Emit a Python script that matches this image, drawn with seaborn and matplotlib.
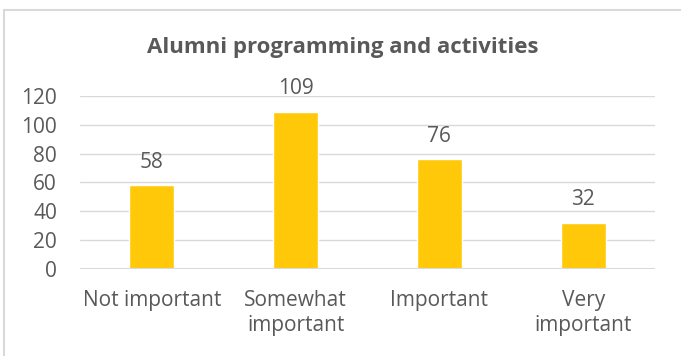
import matplotlib
matplotlib.use("Agg")
import matplotlib.pyplot as plt
import seaborn as sns
import pandas as pd
from matplotlib.patches import Rectangle

categories = ["Not important", "Somewhat\nimportant", "Important", "Very\nimportant"]
values = [58, 109, 76, 32]
yticks = [0, 20, 40, 60, 80, 100, 120]
title = "Alumni programming and activities"

sns.set_theme(style="white")
plt.rcParams['font.family'] = ['Open Sans', 'DejaVu Sans']

text_color = "#595959"
grid_color = "#d9d9d9"
bar_color = "#FFC90A"

fig = plt.figure(figsize=(6.81, 3.56), dpi=100)
ax = fig.add_axes([80/681, 87.3/356, 575/681, 172.7/356])

df = pd.DataFrame({"cat": categories, "val": values})
sns.barplot(data=df, x="cat", y="val", color=bar_color, width=0.313, ax=ax, saturation=1)

ax.set_ylim(0, 120)
ax.set_xlim(-0.5, 3.5)
ax.set_yticks(yticks)
ax.set_xlabel("")
ax.set_ylabel("")
for s in ax.spines.values():
    s.set_visible(False)
ax.yaxis.grid(True, color=grid_color, linewidth=1.0)
ax.set_axisbelow(True)
ax.axhline(0, color=grid_color, linewidth=1.5, zorder=3)
ax.tick_params(axis='both', length=0, labelsize=15, labelcolor=text_color)
ax.tick_params(axis='x', pad=15.5)
ax.tick_params(axis='y', pad=16.5)
for lbl in ax.get_yticklabels():
    lbl.set_ha('right')
for lbl in ax.get_xticklabels():
    lbl.set_linespacing(1.25)

for c in ax.containers:
    ax.bar_label(c, labels=[str(v) for v in values], padding=9, fontsize=15,
                 color=text_color, clip_on=False)

fig.text(343/681, 1 - 48/356, title, ha='center', va='center', fontsize=16,
         fontweight='bold', color=text_color)

fig.patches.append(Rectangle((3.5/681, -0.1), 1.2, 1 - 10/356 + 0.1,
                             transform=fig.transFigure, fill=False,
                             edgecolor=grid_color, linewidth=1.5))

fig.savefig("out.png", dpi=100)
